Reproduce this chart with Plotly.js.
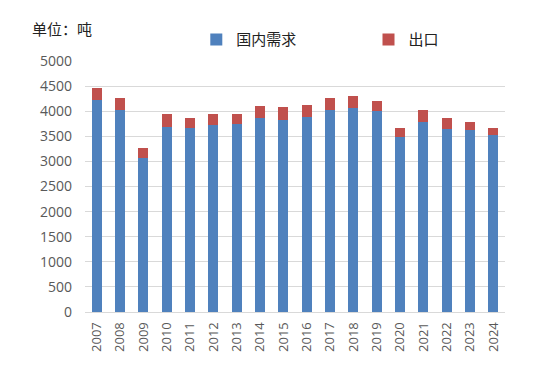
<!DOCTYPE html>
<html>
<head>
<meta charset="utf-8">
<script src="https://cdn.plot.ly/plotly-3.0.1.min.js"></script>
<style>html,body{margin:0;padding:0;background:#fff;}#chart{width:560px;height:377px;}</style>
</head>
<body>
<div id="chart"></div>
<script>
const years = ["2007","2008","2009","2010","2011","2012","2013","2014","2015","2016","2017","2018","2019","2020","2021","2022","2023","2024"];
const domestic = [4230,4020,3060,3690,3660,3730,3740,3870,3830,3880,4030,4070,4010,3490,3790,3650,3630,3530];
const exportVals = [230,240,200,250,210,220,210,230,250,240,240,230,190,170,230,220,150,130];
const yTicks = [0,500,1000,1500,2000,2500,3000,3500,4000,4500,5000];

const cjk = 'Noto Sans CJK SC, Noto Sans, sans-serif';
const num = 'Open Sans, Noto Sans, sans-serif';
const traces = [
  {type:'bar', name:'国内需求', x:years, y:domestic, marker:{color:'#4F81BD'}, legend:'legend'},
  {type:'bar', name:'出口', x:years, y:exportVals, marker:{color:'#C0504D'}, legend:'legend2'}
];
const legBase = {orientation:'h', xanchor:'left', y:1.085, yanchor:'middle',
  font:{family:cjk, size:15, color:'#222'}, bgcolor:'rgba(0,0,0,0)', itemclick:false, itemwidth:30};
const layout = {
  width:560, height:377,
  margin:{l:85, r:55, t:61, b:65},
  barmode:'stack', bargap:0.57,
  paper_bgcolor:'#fff', plot_bgcolor:'#fff',
  font:{family:num, size:13, color:'#595959'},
  showlegend:true,
  legend:Object.assign({}, legBase, {x:0.265}),
  legend2:Object.assign({}, legBase, {x:0.675}),
  xaxis:{type:'category', tickangle:-90, tickfont:{family:num, size:13, color:'#595959'}, showgrid:false,
         showline:true, linecolor:'#d9d9d9', linewidth:1, ticks:'', ticklabelstandoff:4, fixedrange:true},
  yaxis:{range:[0,5000], tickvals:yTicks, ticktext:yTicks.map(String), showgrid:true, gridcolor:'#d9d9d9',
         gridwidth:1, zeroline:false, showline:false, ticks:'', ticklabelstandoff:12,
         tickfont:{family:num, size:14, color:'#595959'}, fixedrange:true},
  annotations:[{xref:'paper', yref:'paper', x:-0.13, y:1.13, xanchor:'left', yanchor:'middle',
    text:'单位：吨', showarrow:false, font:{family:cjk, size:15, color:'#222'}}]
};
Plotly.newPlot('chart', traces, layout, {displayModeBar:false, staticPlot:true});
</script>
</body>
</html>
